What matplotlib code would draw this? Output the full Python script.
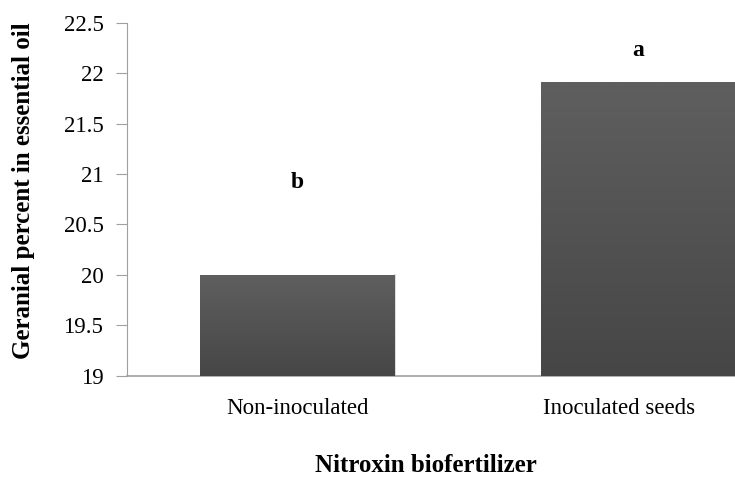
import numpy as np
import matplotlib
matplotlib.use("Agg")
import matplotlib.pyplot as plt
import matplotlib.transforms as mtransforms
from matplotlib.colors import LinearSegmentedColormap

# Data
categories = ["Non-inoculated", "Inoculated seeds"]
geranial = [20.0, 21.91]
letters = ["b", "a"]
letter_y = [20.92, 22.22]

plt.rcParams["font.family"] = ["Liberation Serif", "DejaVu Serif"]

W, H = 735, 478
fig = plt.figure(figsize=(W / 100, H / 100), dpi=100)
left = 127 / W
right = 809 / W
bottom = 1 - 375.7 / H
top = 1 - 22.7 / H
ax = fig.add_axes([left, bottom, right - left, top - bottom])

x = np.arange(len(categories))
bars = ax.bar(x, geranial, width=0.57, bottom=0, color="#555555",
              edgecolor="none", zorder=2)

ax.set_xlim(-0.5, len(categories) - 0.5)
ax.set_ylim(19, 22.5)
ax.set_yticks(np.arange(19, 22.51, 0.5))
ax.set_yticklabels(["19", "19.5", "20", "20.5", "21", "21.5", "22", "22.5"])

# vertical gradient inside each bar
cmap = LinearSegmentedColormap.from_list("barfill", ["#464646", "#5f5f5f"])
grad = np.linspace(0, 1, 256).reshape(-1, 1)
for b in bars:
    bx, bw, bh = b.get_x(), b.get_width(), b.get_height()
    im = ax.imshow(grad, cmap=cmap, origin="lower", aspect="auto",
                   extent=[bx, bx + bw, 19, bh], zorder=3)
    im.set_clip_path(b)
    # faint shadow edge
    ax.plot([bx + bw, bx + bw], [19, bh], color="#d8d8d8", lw=1.2, zorder=1)

for xi, lab, ly in zip(x, letters, letter_y):
    ax.text(xi, ly, lab, ha="center", va="center", fontsize=17,
            fontweight="bold", color="black")

for s in ["top", "right"]:
    ax.spines[s].set_visible(False)
ax.spines["left"].set_color("#a0a0a0")
ax.spines["bottom"].set_color("#a0a0a0")
ax.spines["bottom"].set_linewidth(1.2)

ax.tick_params(axis="y", direction="out", length=8, color="#a0a0a0",
               labelsize=16.5, pad=9)
ax.tick_params(axis="x", length=0, labelsize=16.5, pad=16)
ax.set_xticks(x)
ax.set_xticklabels(categories)

# second category label sits a bit left of its bar (kept inside the page)
lab2 = ax.get_xticklabels()[1]
lab2.set_transform(lab2.get_transform() +
                   mtransforms.ScaledTranslation(-19 / 100, 0, fig.dpi_scale_trans))

fig.text(24 / W, 1 - 191 / H, "Geranial percent in essential oil",
         rotation=90, ha="center", va="center", fontsize=18, fontweight="bold")
fig.text(426 / W, 1 / H, "Nitroxin biofertilizer", ha="center",
         va="bottom", fontsize=18, fontweight="bold")

fig.savefig("out.png", dpi=100, facecolor="white")
